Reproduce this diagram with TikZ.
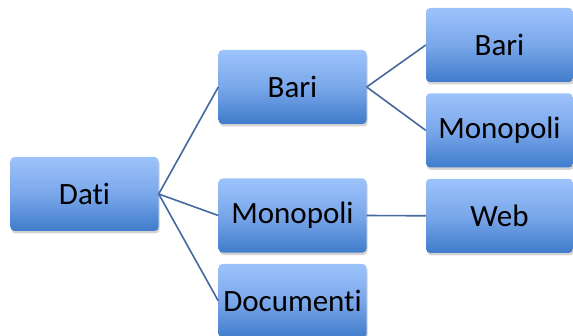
\documentclass[tikz,border=0pt]{standalone}
\usepackage{fontspec}
\setmainfont[Ligatures=NoCommon]{Carlito}
\usepackage{xcolor}
\usetikzlibrary{positioning,shadows}

\definecolor{boxtop}{HTML}{9DC3FB}
\definecolor{boxmid}{HTML}{7AA7EA}
\definecolor{boxbot}{HTML}{3F7CCB}
\definecolor{linkblue}{HTML}{46689E}

\begin{document}
\begin{tikzpicture}[x=1pt, y=1pt,
    box/.style={rectangle, rounded corners=4pt, minimum width=148pt, minimum height=74pt,
        top color=boxtop, bottom color=boxbot, middle color=boxmid,
        drop shadow={shadow xshift=1pt, shadow yshift=-2.5pt, opacity=0.35},
        font=\fontsize{31}{37}\selectfont, inner sep=0pt},
    link/.style={draw=linkblue, line width=1.6pt}]
        \useasboundingbox (0,0) rectangle (573,335);
        \node (dati) [box] at (84.5,141) {Dati};
        \node (bari) [box] at (292.5,248) {Bari};
        \node (mono) [box] at (292.5,119.5) {Monopoli};
        \node (docu) [box, below=11pt of mono] {Documenti};
        \node (bariR) [box, minimum width=147pt] at (499.5,290) {Bari};
        \node (monoR) [box, minimum width=147pt, below=11pt of bariR] {Monopoli};
        \node (web) [box, minimum width=147pt, below=11pt of monoR] {Web};

        \draw[link] (dati.east) -- (bari.west);
        \draw[link] (dati.east) -- (mono.west);
        \draw[link] (dati.east) -- (docu.west);
        \draw[link] (bari.east) -- (bariR.west);
        \draw[link] (bari.east) -- (monoR.west);
        \draw[link] (mono.east) -- (web.west);
    \end{tikzpicture}
\end{document}
